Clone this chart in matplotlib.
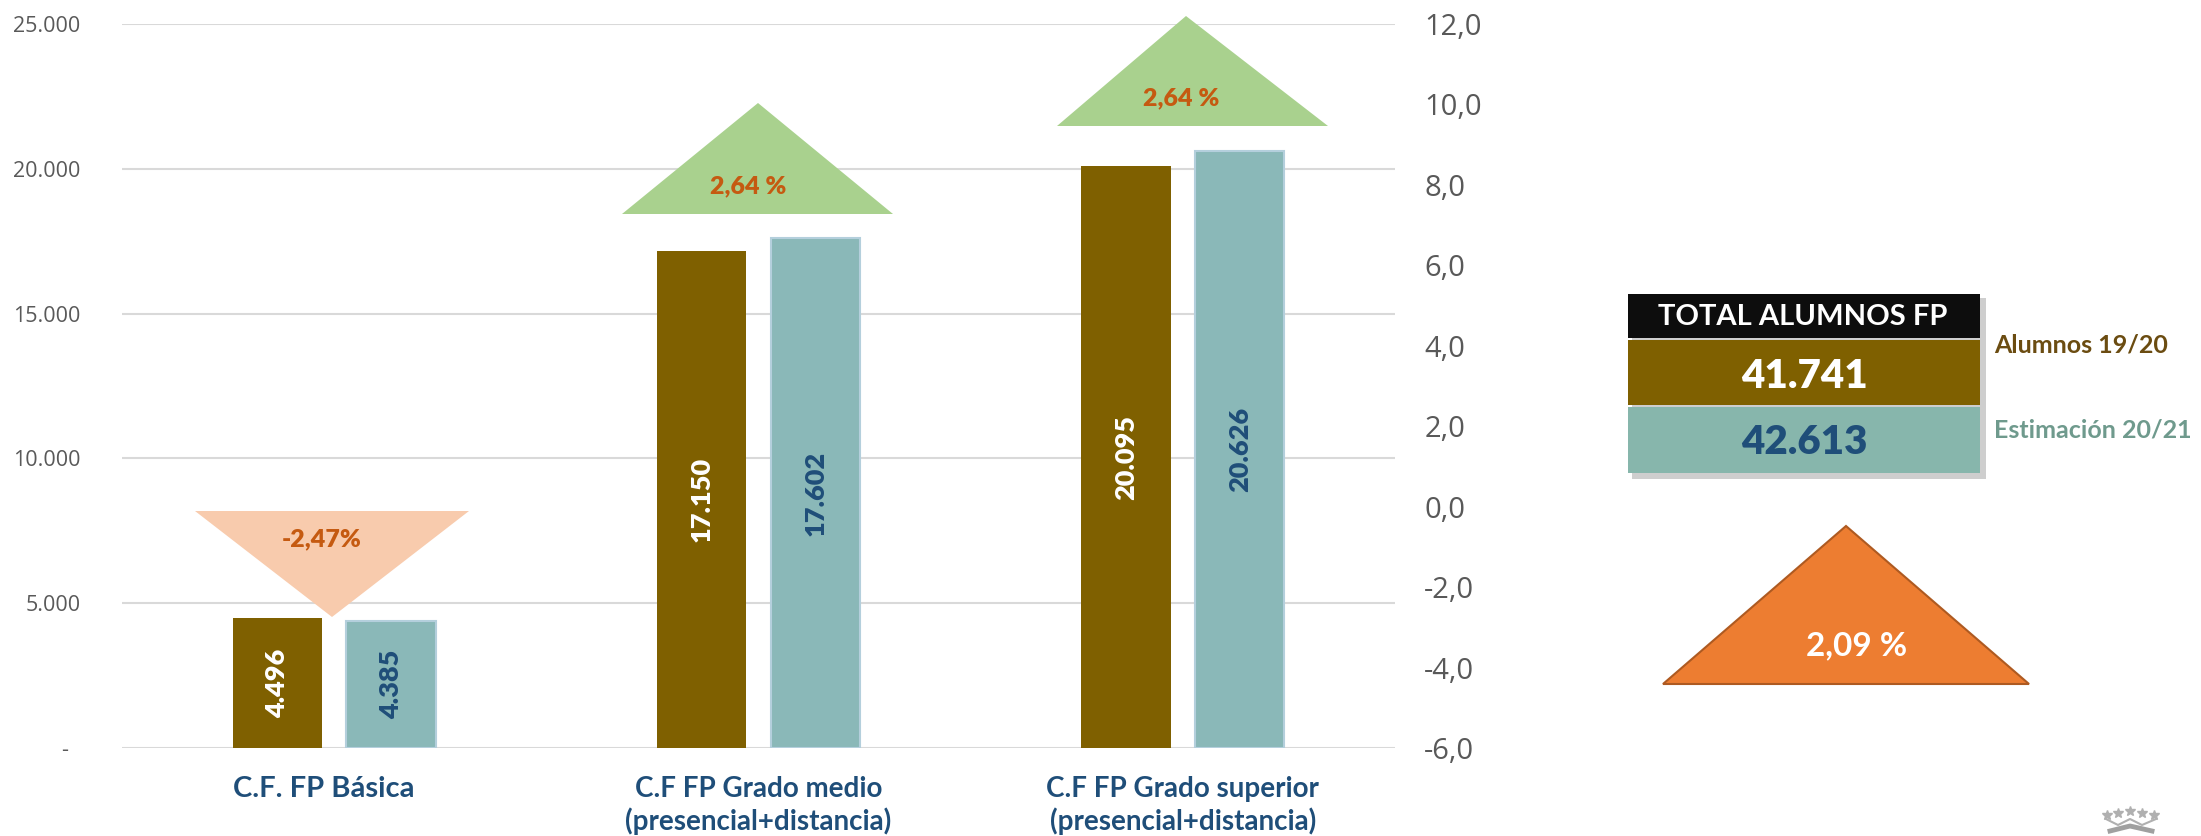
import numpy as np
import matplotlib
matplotlib.use('Agg')
import matplotlib.pyplot as plt
from matplotlib.patches import Polygon, Rectangle
from matplotlib.transforms import ScaledTranslation

W, H = 2201, 836

categories = ['C.F. FP Básica', 'C.F FP Grado medio\n(presencial+distancia)', 'C.F FP Grado superior\n(presencial+distancia)']
alumnos_19_20 = [4496, 17150, 20095]
estimacion_20_21 = [4385, 17602, 20626]
left_ticks = [0, 5000, 10000, 15000, 20000, 25000]
left_labels = ['-  ', '5.000', '10.000', '15.000', '20.000', '25.000']
right_ticks = [-6, -4, -2, 0, 2, 4, 6, 8, 10, 12]
right_labels = ['-6,0', '-4,0', '-2,0', '0,0', '2,0', '4,0', '6,0', '8,0', '10,0', '12,0']
variation_labels = ['-2,47%', '2,64 %', '2,64 %']
total_alumnos = '41.741'
total_estimacion = '42.613'
total_variation = '2,09 %'

BROWN = '#7f6000'
TEAL = '#8ab8b8'
TEAL_BOX = '#87b6ac'
NAVY = '#1f4e79'
GREY = '#595959'
plt.rcParams['font.family'] = ['Lato', 'DejaVu Sans']


def fmt(v):
    return f'{v:,}'.replace(',', '.')


fig = plt.figure(figsize=(W / 100, H / 100), dpi=100)
ax = fig.add_axes([122 / W, 1 - 748 / H, (1395 - 122) / W, (748 - 24) / H])

x = np.arange(len(categories))
width = 0.21
offset = 0.134
ax.bar(x - offset, alumnos_19_20, width, color=BROWN, zorder=3)
ax.bar(x + offset, estimacion_20_21, width, color=TEAL, edgecolor='#b4cfdc', linewidth=1.5, zorder=3)

for i in x:
    ax.text(i - offset, alumnos_19_20[i] / 2, fmt(alumnos_19_20[i]), rotation=90, ha='center', va='center',
            color='white', fontsize=19.5, fontweight='heavy', zorder=4)
    ax.text(i + offset, estimacion_20_21[i] / 2, fmt(estimacion_20_21[i]), rotation=90, ha='center', va='center',
            color=NAVY, fontsize=19.5, fontweight='heavy', zorder=4)

ax.set_xlim(-0.5, 2.5)
ax.set_ylim(0, 25000)
ax.set_yticks(left_ticks)
ax.set_yticklabels(left_labels, family='Open Sans', fontsize=15.5, color=GREY)
ax.tick_params(axis='y', length=0, pad=30)
ax.set_xticks(x)
ax.set_xticklabels(categories, fontsize=20, fontweight='bold', color=NAVY, linespacing=1.25)
ax.tick_params(axis='x', length=0, pad=20)
# first category label sits a little left of its group in the reference
first = ax.get_xticklabels()[0]
first.set_transform(first.get_transform() + ScaledTranslation(-10 / 100, 0, fig.dpi_scale_trans))
first.set_fontsize(21)
ax.grid(axis='y', color='#d9d9d9', linewidth=1.5, zorder=0)
ax.set_axisbelow(True)
for s in ax.spines.values():
    s.set_visible(False)

ax2 = ax.twinx()
ax2.set_ylim(-6, 12)
ax2.set_yticks(right_ticks)
ax2.set_yticklabels(right_labels, family='Open Sans', fontsize=21, color=GREY)
ax2.tick_params(axis='y', length=0, pad=21)
for s in ax2.spines.values():
    s.set_visible(False)

# overlay in image pixels for the shapes drawn on top of the chart
ov = fig.add_axes([0, 0, 1, 1], zorder=5)
ov.set_xlim(0, W)
ov.set_ylim(H, 0)
ov.axis('off')
ov.patch.set_alpha(0)

ov.add_patch(Polygon([(195, 511), (469, 511), (332, 617)], color='#f8cbad', lw=0))
ov.add_patch(Polygon([(758, 103), (622, 214), (893, 214)], color='#a9d18e', lw=0))
ov.add_patch(Polygon([(1186, 16), (1057, 126), (1328, 126)], color='#a9d18e', lw=0))
var_pos = [(322, 539), (748, 186), (1181, 98)]
for (tx, ty), label in zip(var_pos, variation_labels):
    ov.text(tx, ty, label, ha='center', va='center', color='#c55a11', fontsize=18, fontweight='heavy')

# total box
ov.add_patch(Rectangle((1632, 298), 354, 181, color='#a6a6a6', alpha=0.55, lw=0))
ov.add_patch(Rectangle((1628, 294), 352, 44, color='#0d0d0d', lw=0))
ov.add_patch(Rectangle((1628, 340), 352, 65, color=BROWN, lw=0))
ov.add_patch(Rectangle((1628, 407), 352, 66, color=TEAL_BOX, lw=0))
ov.text(1803, 317, 'TOTAL ALUMNOS FP', ha='center', va='center', color='white', fontsize=21, fontweight='bold')
ov.text(1804, 376, total_alumnos, ha='center', va='center', color='white', fontsize=29, fontweight='heavy')
ov.text(1804, 442, total_estimacion, ha='center', va='center', color=NAVY, fontsize=29, fontweight='heavy')
ov.text(1994, 345, 'Alumnos 19/20', ha='left', va='center', color='#6b4c11', fontsize=18, fontweight='bold')
ov.text(1994, 430, 'Estimación 20/21', ha='left', va='center', color='#6f9a8d', fontsize=18, fontweight='bold')

ov.add_patch(Polygon([(1846, 526), (1663, 684), (2029, 684)], facecolor='#ed7d31', edgecolor='#ae5a21', lw=1.5))
ov.text(1857, 646, total_variation, ha='center', va='center', color='white', fontsize=24, fontweight='bold')

# small crown logo, bottom right
ov.plot([2107, 2118, 2130, 2142, 2154], [815, 813, 811, 813, 815], ls='none', marker='*', ms=7, color='#b0b0b0')
ov.plot([2106, 2118, 2130, 2142, 2156], [819, 825, 819, 825, 819], color='#b0b0b0', lw=1.5)
ov.plot([2110, 2130, 2152], [831, 826, 831], color='#a0a0a0', lw=3.5)

fig.savefig('out.png', dpi=100, facecolor='white')
